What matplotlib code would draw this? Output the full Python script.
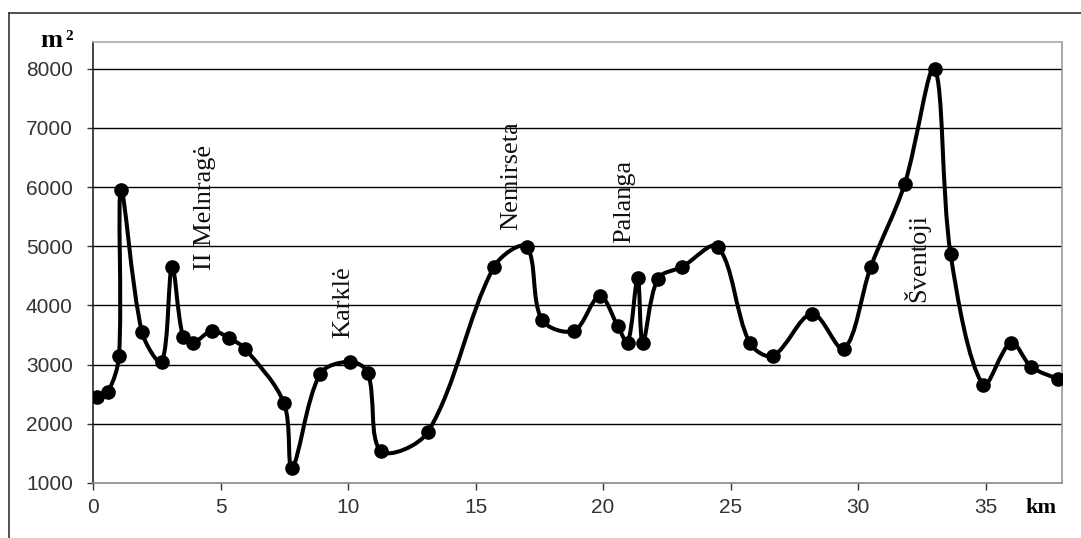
#!/usr/bin/env python3
"""
Beach area along the coast (m2 vs km), smoothed line with markers
"""

import numpy as np
import matplotlib
matplotlib.use("Agg")
import matplotlib.pyplot as plt
from matplotlib.path import Path
from matplotlib.patches import PathPatch
from matplotlib.lines import Line2D

# data
km = [0.16, 0.59, 1.02, 1.1, 1.92, 2.7, 3.1, 3.53, 3.92, 4.67, 5.33, 5.98,
      7.49, 7.8, 8.9, 10.07, 10.78, 11.29, 13.13, 15.72, 17.0, 17.6, 18.86,
      19.87, 20.58, 20.97, 21.36, 21.56, 22.15, 23.1, 24.5, 25.75, 26.67,
      28.2, 29.45, 30.5, 31.83, 33.0, 33.63, 34.9, 36.0, 36.8, 37.83]
area = [2450, 2540, 3150, 5950, 3550, 3050, 4650, 3470, 3370, 3570, 3450, 3260,
        2350, 1250, 2840, 3050, 2860, 1540, 1860, 4650, 4990, 3760, 3570,
        4160, 3650, 3370, 4470, 3370, 4450, 4650, 4990, 3370, 3150,
        3860, 3270, 4650, 6050, 8000, 4870, 2660, 3370, 2960, 2760]

places = ["II Melnragė", "Karklė", "Nemirseta", "Palanga", "Šventoji"]
place_km = [4.39, 9.8, 16.42, 20.85, 32.3]
place_y = [4600, 3450, 5280, 5060, 4060]

xticks = [0, 5, 10, 15, 20, 25, 30, 35]
yticks = [1000, 2000, 3000, 4000, 5000, 6000, 7000, 8000]


# smoothed path like a spreadsheet "smoothed line":
# catmull-rom style bezier, tangents weighted by on-screen segment lengths
def smooth_path(ax, xs, ys):
  pts = np.column_stack([xs, ys]).astype(float)
  scr = ax.transData.transform(pts)
  n = len(pts)
  seg = np.hypot(*(np.diff(scr, axis=0).T))
  verts = [pts[0]]
  codes = [Path.MOVETO]
  for i in range(n - 1):
    p0 = pts[max(i - 1, 0)]
    p1 = pts[i]
    p2 = pts[i + 1]
    p3 = pts[min(i + 2, n - 1)]
    d01 = seg[i - 1] if i > 0 else seg[i]
    d12 = seg[i]
    d23 = seg[i + 1] if i + 1 < n - 1 else seg[i]
    c1 = p1 + (p2 - p0) * d12 / (d01 + d12) / 3.0
    c2 = p2 - (p3 - p1) * d12 / (d12 + d23) / 3.0
    verts += [c1, c2, p2]
    codes += [Path.CURVE4] * 3
  return Path(verts, codes)


fig = plt.figure(figsize=(10.81, 5.38), dpi=100)
ax = fig.add_axes([93/1081, 1 - 483/538, (1062-93)/1081, (483-42)/538])

ax.set_xlim(0, 38)
ax.set_ylim(1000, 8450)
ax.set_xticks(xticks)
ax.set_yticks(yticks)

for y in yticks[1:]:
  ax.axhline(y, color="black", lw=1.0, zorder=1)

ax.add_patch(PathPatch(smooth_path(ax, km, area), fill=False, edgecolor="black",
                       lw=2.9, zorder=3, capstyle="round", joinstyle="round"))
ax.plot(km, area, "o", color="black", markersize=9.5, zorder=4)

for name, x, y in zip(places, place_km, place_y):
  ax.text(x, y, name, rotation=90, ha="center", va="bottom",
          family="Liberation Serif", fontsize=19, color="#111", zorder=5)

ax.spines["left"].set_color("#222")
ax.spines["bottom"].set_color("#888")
ax.spines["top"].set_color("#aaa")
ax.spines["right"].set_color("#999")
for s in ax.spines.values():
  s.set_linewidth(1.2)

ax.tick_params(axis="y", direction="out", length=4.5, width=1, pad=10,
               labelsize=15, labelcolor="#333", color="#333")
ax.tick_params(axis="x", direction="out", length=5, width=1, pad=6,
               labelsize=15, labelcolor="#333", color="#333")
for lab in ax.get_xticklabels() + ax.get_yticklabels():
  lab.set_family("Liberation Sans")

# unit labels
fig.text(51/1081, 1 - 47/538, "m", family="Liberation Serif", weight="bold",
         fontsize=19, ha="center", va="baseline")
fig.text(69/1081, 1 - 40/538, "2", family="Liberation Serif", weight="bold",
         fontsize=11, ha="center", va="baseline")
fig.text(1041/1081, 1 - 508/538, "km", family="Liberation Serif",
         weight="bold", fontsize=16, ha="center", va="center")

# outer chart frame (only left and top show)
fig.add_artist(Line2D([9/1081, 9/1081], [0, 1 - 13/538], color="#333", lw=1.2))
fig.add_artist(Line2D([9/1081, 1], [1 - 13/538, 1 - 13/538], color="#333", lw=1.2))

fig.savefig("out.png", dpi=100, facecolor="white")
